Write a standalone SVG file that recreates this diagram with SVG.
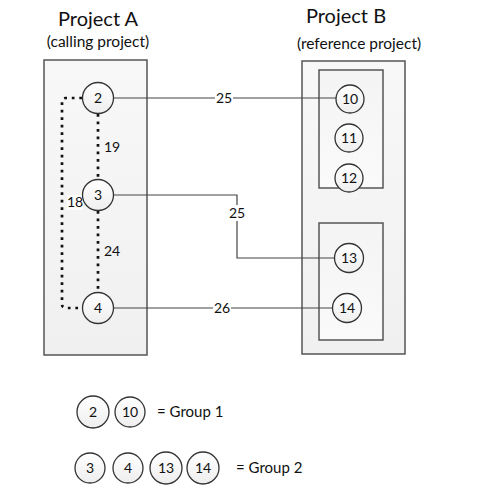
<svg xmlns="http://www.w3.org/2000/svg" width="488" height="488" viewBox="0 0 488 488">
<defs>
<linearGradient id="gbox" x1="0" y1="0" x2="0" y2="1">
<stop offset="0" stop-color="#f8f8f8"/>
<stop offset="1" stop-color="#f0f0f0"/>
</linearGradient>
<linearGradient id="gin" x1="0" y1="0" x2="0" y2="1">
<stop offset="0" stop-color="#f4f4f4"/>
<stop offset="1" stop-color="#fafafa"/>
</linearGradient>
<linearGradient id="gc" x1="0" y1="0" x2="0" y2="1">
<stop offset="0" stop-color="#ffffff"/>
<stop offset="1" stop-color="#eeeeee"/>
</linearGradient>
</defs>
<style>
text{font-family:Lato,"Open Sans","Liberation Sans",sans-serif;fill:#111}
.box{fill:url(#gbox);stroke:#555;stroke-width:1.5}
.inner{fill:url(#gin);stroke:#555;stroke-width:1.5}
.node circle{fill:url(#gc);stroke:#333;stroke-width:1.3}
.node text{font-size:14px;text-anchor:middle}
.ln{fill:none;stroke:#444;stroke-width:1.2}
.dot{fill:none;stroke:#111;stroke-width:2.7;stroke-dasharray:2.7 4.8}
.lbl{font-size:14px;text-anchor:middle}
.lb{fill:#fff}
.title{font-size:20px;text-anchor:middle}
.sub{font-size:15.5px;text-anchor:middle}
.leg{font-size:15px}
</style>
<g id="titles">
<text class="title" x="98" y="26">Project A</text>
<text class="sub" x="98" y="47">(calling project)</text>
<text class="title" x="346" y="23">Project B</text>
<text class="sub" x="359" y="49">(reference project)</text>
</g>
<g id="projectA"><rect class="box" x="44" y="60" width="103" height="295"/></g>
<g id="projectB">
<rect class="box" x="302" y="61" width="103" height="293"/>
<rect class="inner" x="319" y="70" width="64" height="118"/>
<rect class="inner" x="319" y="223" width="64" height="117"/>
</g>
<g id="connectors">
<path class="ln" d="M113,98 H336"/>
<rect class="lb" x="215" y="91" width="18" height="14"/>
<text class="lbl" x="224" y="103">25</text>
<path class="ln" d="M113,195 H237 V258 H335"/>
<rect class="lb" x="228" y="205" width="18" height="16"/>
<text class="lbl" x="237" y="218">25</text>
<path class="ln" d="M113,308 H332"/>
<rect class="lb" x="213" y="301" width="18" height="14"/>
<text class="lbl" x="222" y="313">26</text>
<path class="dot" d="M98,114 V180"/>
<text class="lbl" x="112" y="152">19</text>
<path class="dot" d="M98,211 V292"/>
<text class="lbl" x="112" y="256">24</text>
<path class="dot" d="M82,98 H66 Q62,98 62,102 V304 Q62,308 66,308 H82"/>
<rect class="lb" x="67" y="195" width="16" height="15"/>
<text class="lbl" x="75" y="207">18</text>
</g>
<g id="n2" class="node"><circle cx="98" cy="98" r="15.5"/><text x="98" y="103">2</text></g>
<g id="n3" class="node"><circle cx="98" cy="195" r="15.5"/><text x="98" y="200">3</text></g>
<g id="n4" class="node"><circle cx="98" cy="308" r="15.5"/><text x="98" y="313">4</text></g>
<g id="n10" class="node"><circle cx="350" cy="99" r="14"/><text x="350" y="104">10</text></g>
<g id="n11" class="node"><circle cx="349" cy="138" r="14"/><text x="349" y="143">11</text></g>
<g id="n12" class="node"><circle cx="349" cy="178" r="14"/><text x="349" y="183">12</text></g>
<g id="n13" class="node"><circle cx="349" cy="258" r="14.5"/><text x="349" y="263">13</text></g>
<g id="n14" class="node"><circle cx="347" cy="308" r="14.5"/><text x="347" y="313">14</text></g>
<g id="legend">
<g id="l2" class="node"><circle cx="93" cy="412" r="16"/><text x="93" y="417">2</text></g>
<g id="l10" class="node"><circle cx="130" cy="412" r="15"/><text x="130" y="417">10</text></g>
<text class="leg" x="157" y="417">= Group 1</text>
<g id="l3" class="node"><circle cx="90" cy="468" r="15"/><text x="90" y="473">3</text></g>
<g id="l4" class="node"><circle cx="128" cy="468" r="15"/><text x="128" y="473">4</text></g>
<g id="l13" class="node"><circle cx="166" cy="468" r="16"/><text x="166" y="473">13</text></g>
<g id="l14" class="node"><circle cx="203" cy="468" r="16"/><text x="203" y="473">14</text></g>
<text class="leg" x="236" y="473">= Group 2</text>
</g>
</svg>
